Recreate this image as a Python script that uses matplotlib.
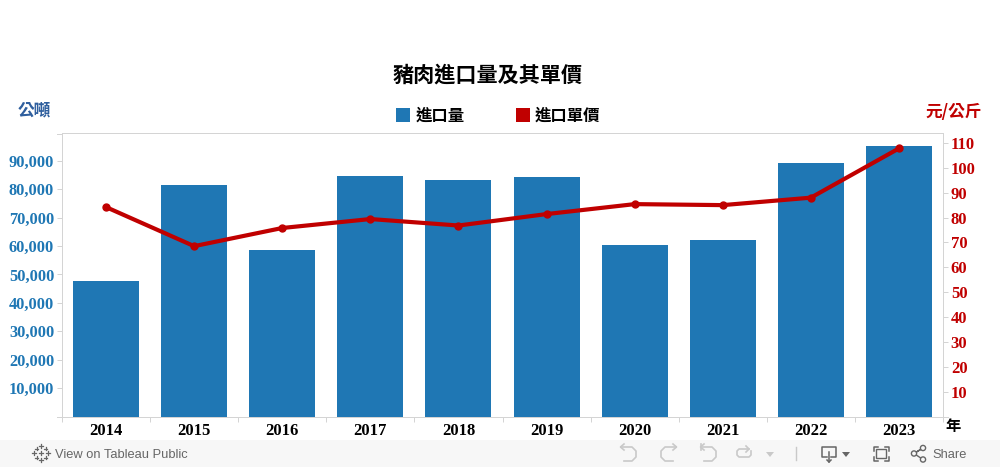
import matplotlib
matplotlib.use('Agg')
import matplotlib.pyplot as plt
from matplotlib.patches import Rectangle, Circle, Polygon
from matplotlib.ticker import FuncFormatter

years = ['2014', '2015', '2016', '2017', '2018', '2019', '2020', '2021', '2022', '2023']
volume = [47700, 81600, 58700, 84800, 83300, 84400, 60400, 62200, 89400, 95200]
price = [84.2, 68.5, 75.8, 79.4, 76.8, 81.4, 85.4, 85.0, 88.0, 107.8]
left_ticks = [10000, 20000, 30000, 40000, 50000, 60000, 70000, 80000, 90000]
right_ticks = [10, 20, 30, 40, 50, 60, 70, 80, 90, 100, 110]

BLUE = '#1f77b4'
RED = '#c00000'
GRID = '#d4d4d4'
W, H = 1000, 467
CJK = ['Noto Sans CJK TC', 'DejaVu Sans']
SERIF = 'Liberation Serif'
PX = 0.72  # one pixel in points

fig = plt.figure(figsize=(W / 100, H / 100), dpi=100)
ax = fig.add_axes([62 / W, 1 - 416.5 / H, 881 / W, 283.5 / H])
xs = list(range(len(years)))

ax.bar(xs, volume, width=0.75, color=BLUE, zorder=2)
ax.set_xlim(-0.5, 9.5)
ax.set_ylim(0, 99800)
ax.set_yticks(left_ticks)
ax.yaxis.set_major_formatter(FuncFormatter(lambda v, p: f'{int(v):,}'))
ax.set_xticks([x - 0.5 for x in xs] + [9.5])
ax.set_xticklabels([])
ax.tick_params(axis='x', length=3.6, width=PX, color=GRID)
ax.tick_params(axis='y', length=3.6, width=PX, color=GRID, labelcolor=BLUE, pad=2)
for lab in ax.get_yticklabels():
    lab.set_fontfamily(SERIF)
    lab.set_fontweight('bold')
    lab.set_fontsize(11.8)
for s in ax.spines.values():
    s.set_color(GRID)
    s.set_linewidth(PX)

for x, y in zip(xs, years):
    ax.annotate(y, (x, 0), xytext=(0, -10.6), textcoords='offset points', ha='center', va='center',
                family=SERIF, fontweight='bold', fontsize=12, color='black')

ax2 = ax.twinx()
ax2.plot(xs, price, color=RED, lw=3.0, marker='o', ms=5, zorder=5)
ax2.set_ylim(0, 114)
ax2.set_yticks(right_ticks)
ax2.tick_params(axis='y', length=3.6, width=PX, color=GRID, labelcolor=RED, pad=2)
for lab in ax2.get_yticklabels():
    lab.set_fontfamily(SERIF)
    lab.set_fontweight('bold')
    lab.set_fontsize(12)
for s in ax2.spines.values():
    s.set_visible(False)

# overlay in pixel coordinates, for titles, legend and the toolbar
ov = fig.add_axes([0, 0, 1, 1], zorder=-1)
ov.set_xlim(0, W)
ov.set_ylim(H, 0)
ov.axis('off')
top = fig.add_axes([0, 0, 1, 1], zorder=10)
top.set_xlim(0, W)
top.set_ylim(H, 0)
top.axis('off')
top.patch.set_alpha(0)

# axis lines run past the plot on the outer side
top.plot([57, 62], [133.5, 133.5], color=GRID, lw=PX)
top.plot([57, 62], [416.5, 416.5], color=GRID, lw=PX)
top.plot([943, 948], [416.5, 416.5], color=GRID, lw=PX)

top.text(488, 75.3, '豬肉進口量及其單價', family=CJK, fontweight='bold', fontsize=15.2, ha='center', va='center', color='black')
top.text(34, 110.3, '公噸', family=CJK, fontweight='bold', fontsize=12, ha='center', va='center', color='#2f5f9e')
top.text(954, 112.3, '元/公斤', family=CJK, fontweight='bold', fontsize=12, ha='center', va='center', color=RED)
top.text(953, 426.5, '年', family=CJK, fontweight='bold', fontsize=11, ha='center', va='center', color='black')

top.add_patch(Rectangle((396, 108), 14, 14, color=BLUE, lw=0))
top.text(416, 115.5, '進口量', family=CJK, fontweight='bold', fontsize=11.8, ha='left', va='center', color='black')
top.add_patch(Rectangle((516, 108), 14, 14, color=RED, lw=0))
top.text(535, 115.5, '進口單價', family=CJK, fontweight='bold', fontsize=11.8, ha='left', va='center', color='black')

# toolbar
ov.add_patch(Rectangle((0, 440), W, 27, color='#f7f7f7', lw=0))
ICON = '#c9c9c9'
DARK = '#666666'
for dx, dy in [(0, -7), (0, 7), (-7, 0), (7, 0), (-4.5, -4.5), (4.5, -4.5), (-4.5, 4.5), (4.5, 4.5), (0, 0)]:
    size = 4 if dx == 0 or dy == 0 else 2.5
    top.plot([41 + dx - size / 2, 41 + dx + size / 2], [453 + dy, 453 + dy], color=DARK, lw=0.9)
    top.plot([41 + dx, 41 + dx], [453 + dy - size / 2, 453 + dy + size / 2], color=DARK, lw=0.9)
top.text(55, 454.5, 'View on Tableau Public', family='Liberation Sans', fontsize=9.3, color='#666666', ha='left', va='center')
top.text(932, 454.5, 'Share', family='Liberation Sans', fontsize=9.3, color='#666666', ha='left', va='center')

# undo, redo, revert, refresh icons
top.plot([621, 632, 636, 636, 632, 624], [447, 447, 451, 457, 461, 461], color=ICON, lw=1.2)
top.plot([624, 620.5, 624], [444, 447, 450], color=ICON, lw=1.2)
top.plot([676, 665, 661, 661, 665, 673], [447, 447, 451, 457, 461, 461], color=ICON, lw=1.2)
top.plot([673, 676.5, 673], [444, 447, 450], color=ICON, lw=1.2)
top.plot([701, 712, 716, 716, 712, 704], [447, 447, 451, 457, 461, 461], color=ICON, lw=1.2)
top.plot([704, 700.5, 704], [444, 447, 450], color=ICON, lw=1.2)
top.plot([701, 701], [444, 450], color=ICON, lw=1.2)
top.plot([749, 739, 737, 737, 739, 749, 751, 751], [449, 449, 451, 455, 457, 457, 455, 451], color=ICON, lw=1.2)
top.plot([746, 749, 746], [446, 449, 452], color=ICON, lw=1.2)
top.add_patch(Polygon([[766, 452], [774, 452], [770, 457]], color=ICON, lw=0))
top.plot([795.5, 795.5], [447, 460], color=ICON, lw=1)

# download
top.plot([827, 822, 822, 836, 836, 831], [457, 457, 447, 447, 457, 457], color=DARK, lw=1.1)
top.plot([829, 829], [452, 462], color=DARK, lw=1.1)
top.plot([827, 829, 831], [460, 462, 460], color=DARK, lw=1.1)
top.add_patch(Polygon([[842, 452], [850, 452], [846, 457]], color=DARK, lw=0))

# fullscreen
top.add_patch(Rectangle((876, 449), 10, 9, fill=False, ec=DARK, lw=1))
for cx, cy, sx, sy in [(873.5, 446.5, 1, 1), (888.5, 446.5, -1, 1), (873.5, 461, 1, -1), (888.5, 461, -1, -1)]:
    top.plot([cx + 4 * sx, cx, cx], [cy, cy, cy + 4 * sy], color=DARK, lw=1.1)

# share
top.plot([914, 923, 914], [453.5, 448, 453.5], color=DARK, lw=1)
top.plot([914, 923], [453.5, 459.5], color=DARK, lw=1)
for cx, cy in [(914, 453.5), (923, 448), (923, 459.5)]:
    top.add_patch(Circle((cx, cy), 2.6, fc='#f7f7f7', ec=DARK, lw=1, zorder=5))

fig.savefig('out.png', dpi=100, facecolor='white')
